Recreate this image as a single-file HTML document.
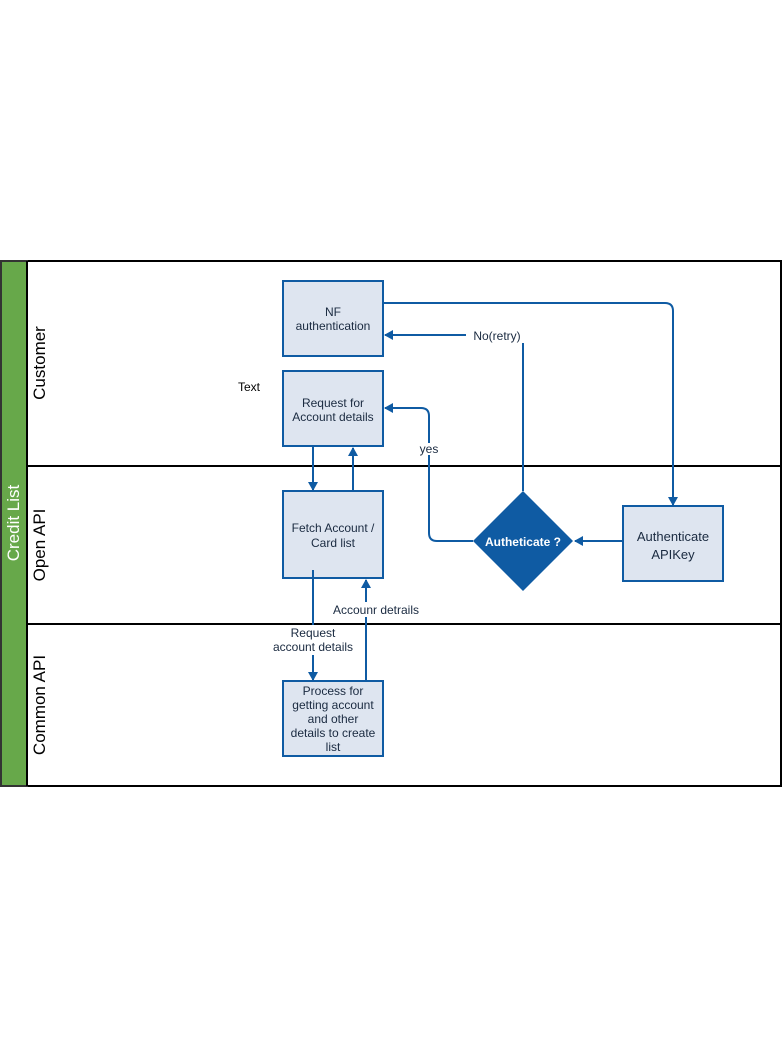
<!DOCTYPE html>
<html><head><style>body{margin:0;background:#fff}svg{display:block}</style></head><body>
<svg width="782" height="1047" viewBox="0 0 782 1047" xmlns="http://www.w3.org/2000/svg" font-family="Liberation Sans, sans-serif">
<defs><marker id="a" markerWidth="10" markerHeight="10" refX="8" refY="5" orient="auto" markerUnits="userSpaceOnUse"><path d="M0,0 L9,5 L0,10 Z" fill="#0f5ba3"/></marker></defs>
<rect x="1" y="261" width="780" height="525" fill="#fff" stroke="#000" stroke-width="2"/>
<rect x="1" y="261" width="26" height="525" fill="#67a84a" stroke="#333" stroke-width="2"/>
<line x1="27" y1="261" x2="27" y2="786" stroke="#000" stroke-width="2"/>
<line x1="27" y1="466" x2="781" y2="466" stroke="#000" stroke-width="2"/>
<line x1="27" y1="624" x2="781" y2="624" stroke="#000" stroke-width="2"/>
<text transform="translate(19,523) rotate(-90)" text-anchor="middle" fill="#fff" font-size="17">Credit List</text>
<text transform="translate(45,363) rotate(-90)" text-anchor="middle" font-size="17">Customer</text>
<text transform="translate(45,545) rotate(-90)" text-anchor="middle" font-size="17">Open API</text>
<text transform="translate(45,705) rotate(-90)" text-anchor="middle" font-size="17">Common API</text>
<g fill="#dee5f0" stroke="#0f5ba3" stroke-width="2">
<rect x="283" y="281" width="100" height="75"/>
<rect x="283" y="371" width="100" height="75"/>
<rect x="283" y="491" width="100" height="87"/>
<rect x="283" y="681" width="100" height="75"/>
<rect x="623" y="506" width="100" height="75"/>
</g>
<path d="M523,491 L573,541 L523,591 L473,541 Z" fill="#0f5ba3"/>
<g fill="none" stroke="#0f5ba3" stroke-width="2">
<path d="M383,303 H665 Q673,303 673,311 V505" marker-end="url(#a)"/>
<path d="M623,541 H575" marker-end="url(#a)"/>
<path d="M473,541 H437 Q429,541 429,533 V416 Q429,408 421,408 H385" marker-end="url(#a)"/>
<path d="M523,491 V343"/>
<path d="M466,335 H385" marker-end="url(#a)"/>
<path d="M313,446 V490" marker-end="url(#a)"/>
<path d="M353,491 V448" marker-end="url(#a)"/>
<path d="M313,570 V625 M313,655 V680" marker-end="url(#a)"/>
<path d="M366,681 V617 M366,602 V580" marker-end="url(#a)"/>
</g>
<g font-size="12" fill="#1a2a40" text-anchor="middle">
<text x="333" y="316">NF</text><text x="333" y="330">authentication</text>
<text x="333" y="407">Request for</text><text x="333" y="421">Account details</text>
<text x="333" y="532">Fetch Account /</text><text x="333" y="547">Card list</text>
<text x="333" y="695">Process for</text><text x="333" y="709">getting account</text><text x="333" y="723">and  other</text><text x="333" y="737">details  to create</text><text x="333" y="751">list</text>
<text x="673" y="541" font-size="13">Authenticate</text><text x="673" y="559" font-size="13">APIKey</text>
<text x="497" y="340">No(retry)</text>
<rect x="419" y="443" width="20" height="12" fill="#fff"/>
<text x="429" y="453">yes</text>
<text x="313" y="637">Request</text><text x="313" y="651">account details</text>
<text x="376" y="614">Accounr detrails</text>
<text x="249" y="391" fill="#000">Text</text>
<text x="523" y="546" fill="#fff" font-weight="bold">Autheticate ?</text>
</g>
</svg>
</body></html>
